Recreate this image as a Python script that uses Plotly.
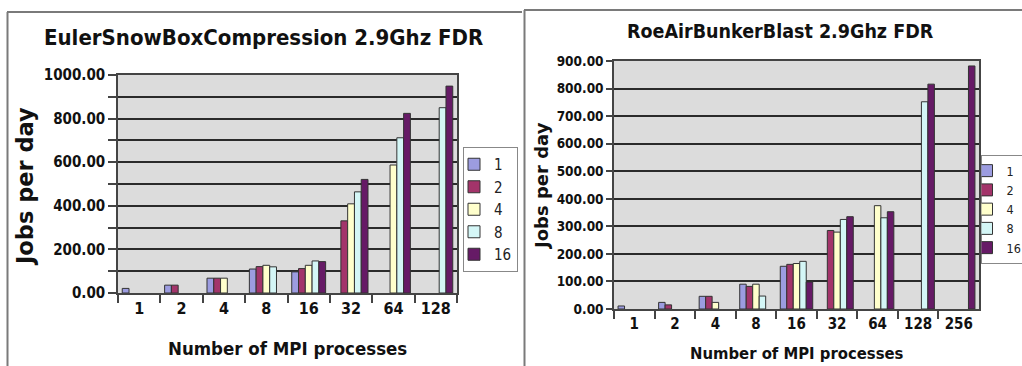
import plotly.graph_objects as go

W, H = 1022, 366

# ---------------- data ----------------
left_cats = ["1", "2", "4", "8", "16", "32", "64", "128"]
right_cats = ["1", "2", "4", "8", "16", "32", "64", "128", "256"]
series_names = ["1", "2", "4", "8", "16"]

left_s1 = [21, 36, 68, 110, 97, None, None, None]
left_s2 = [None, 36, 68, 121, 112, 331, None, None]
left_s4 = [None, None, 68, 127, 127, 409, 587, None]
left_s8 = [None, None, None, 120, 147, 464, 712, 850]
left_s16 = [None, None, None, None, 144, 521, 824, 949]

right_s1 = [11, 24, 46, 90, 155, None, None, None, None]
right_s2 = [None, 15, 46, 82, 162, 285, None, None, None]
right_s4 = [None, None, 24, 90, 165, 279, 375, None, None]
right_s8 = [None, None, None, 47, 173, 325, 331, 752, None]
right_s16 = [None, None, None, None, 98, 335, 353, 816, 882]

left_ticks = [0, 100, 200, 300, 400, 500, 600, 700, 800, 900, 1000]
left_ticktext = ["0.00", "", "200.00", "", "400.00", "", "600.00", "", "800.00", "", "1000.00"]
right_ticks = [0, 100, 200, 300, 400, 500, 600, 700, 800, 900]
right_ticktext = ["0.00", "100.00", "200.00", "300.00", "400.00", "500.00",
                  "600.00", "700.00", "800.00", "900.00"]

left_title = "EulerSnowBoxCompression 2.9Ghz FDR"
right_title = "RoeAirBunkerBlast 2.9Ghz FDR"
x_title = "Number of MPI processes"
y_title = "Jobs per day"

colors = ["#9c9ce0", "#a3346a", "#ffffcc", "#d4f6f6", "#661a66"]

# ---------------- helpers ----------------
def px(x):
    return x / W

def py(y):
    return 1 - y / H

COND = "DejaVu Sans Condensed"
WIDE = "DejaVu Sans"

fig = go.Figure()

left_series = [left_s1, left_s2, left_s4, left_s8, left_s16]
right_series = [right_s1, right_s2, right_s4, right_s8, right_s16]

for name, vals, col in zip(series_names, left_series, colors):
    fig.add_trace(go.Bar(x=left_cats, y=vals, name=name, marker_color=col,
                         marker_line=dict(color="#333333", width=1),
                         xaxis="x", yaxis="y", legend="legend"))
for name, vals, col in zip(series_names, right_series, colors):
    fig.add_trace(go.Bar(x=right_cats, y=vals, name=name, marker_color=col,
                         marker_line=dict(color="#333333", width=1),
                         xaxis="x2", yaxis="y2", legend="legend2"))

grid = "#2b2b2b"
axis_common_x = dict(type="category", tickson="boundaries", ticks="outside",
                     ticklen=8, tickcolor="#444444", tickwidth=1.5,
                     showline=True, linecolor="#444444", linewidth=1.5,
                     mirror=True, showgrid=False, automargin=False)
axis_common_y = dict(ticks="outside", tickcolor="#444444", tickwidth=1.5,
                     showgrid=True, gridcolor=grid, gridwidth=1.5,
                     showline=True, linecolor="#444444", linewidth=1.5,
                     mirror=True, zeroline=False, automargin=False)

fig.update_layout(
    width=W, height=H,
    margin=dict(l=0, r=0, t=0, b=0, autoexpand=False),
    paper_bgcolor="white",
    plot_bgcolor="#dcdcdc",
    barmode="group",
    bargap=0.2,
    bargroupgap=0.0,
    xaxis=dict(domain=[px(118), px(457)], anchor="y",
               tickfont=dict(family=COND, size=16, color="#111111", weight="bold"),
               **axis_common_x),
    yaxis=dict(domain=[py(293), py(75)], anchor="x", range=[0, 1000],
               tickvals=left_ticks, ticktext=left_ticktext, ticklen=8,
               tickfont=dict(family=COND, size=15, color="#111111", weight="bold"),
               **axis_common_y),
    xaxis2=dict(domain=[px(614), px(979)], anchor="y2",
                tickfont=dict(family=COND, size=15, color="#111111", weight="bold"),
                **axis_common_x),
    yaxis2=dict(domain=[py(309), py(61)], anchor="x2", range=[0, 900],
                tickvals=right_ticks, ticktext=right_ticktext, ticklen=6,
                tickfont=dict(family=COND, size=13.5, color="#111111", weight="bold"),
                **axis_common_y),
    legend=dict(x=px(463), y=py(147), xanchor="left", yanchor="top",
                xref="container", yref="container", indentation=-10,
                bgcolor="white", bordercolor="#888888", borderwidth=1,
                font=dict(family=COND, size=15, color="#222222")),
    legend2=dict(x=px(980.5), y=py(155), xanchor="left", yanchor="top",
                 xref="container", yref="container", indentation=-15,
                 bgcolor="white", bordercolor="#888888", borderwidth=1,
                 font=dict(family=COND, size=12.5, color="#222222")),
)

annotations = [
    dict(text=left_title, x=px(263), y=py(37),
         font=dict(family=COND, size=22, color="#111111", weight="bold")),
    dict(text=right_title, x=px(780), y=py(32),
         font=dict(family=COND, size=19.5, color="#111111", weight="bold")),
    dict(text=x_title, x=px(287), y=py(348),
         font=dict(family=COND, size=18.5, color="#111111", weight="bold")),
    dict(text=x_title, x=px(797), y=py(353),
         font=dict(family=COND, size=16.5, color="#111111", weight="bold")),
    dict(text=y_title, x=px(25), y=py(187), textangle=-90,
         font=dict(family=WIDE, size=22.5, color="#111111", weight="bold")),
    dict(text=y_title, x=px(541), y=py(186), textangle=-90,
         font=dict(family=WIDE, size=18, color="#111111", weight="bold")),
]
for a in annotations:
    a.update(xref="paper", yref="paper", showarrow=False,
             xanchor="center", yanchor="middle")
fig.update_layout(annotations=annotations)

frame = dict(type="line", xref="paper", yref="paper",
             line=dict(color="#7a7a7a", width=2))
fig.update_layout(shapes=[
    dict(frame, x0=px(7), x1=px(522), y0=py(12), y1=py(12)),
    dict(frame, x0=px(7.5), x1=px(7.5), y0=py(12), y1=0),
    dict(frame, x0=px(524), x1=1, y0=py(10), y1=py(10)),
    dict(frame, x0=px(524.5), x1=px(524.5), y0=py(10), y1=0),
])

fig.write_html("out.html")
